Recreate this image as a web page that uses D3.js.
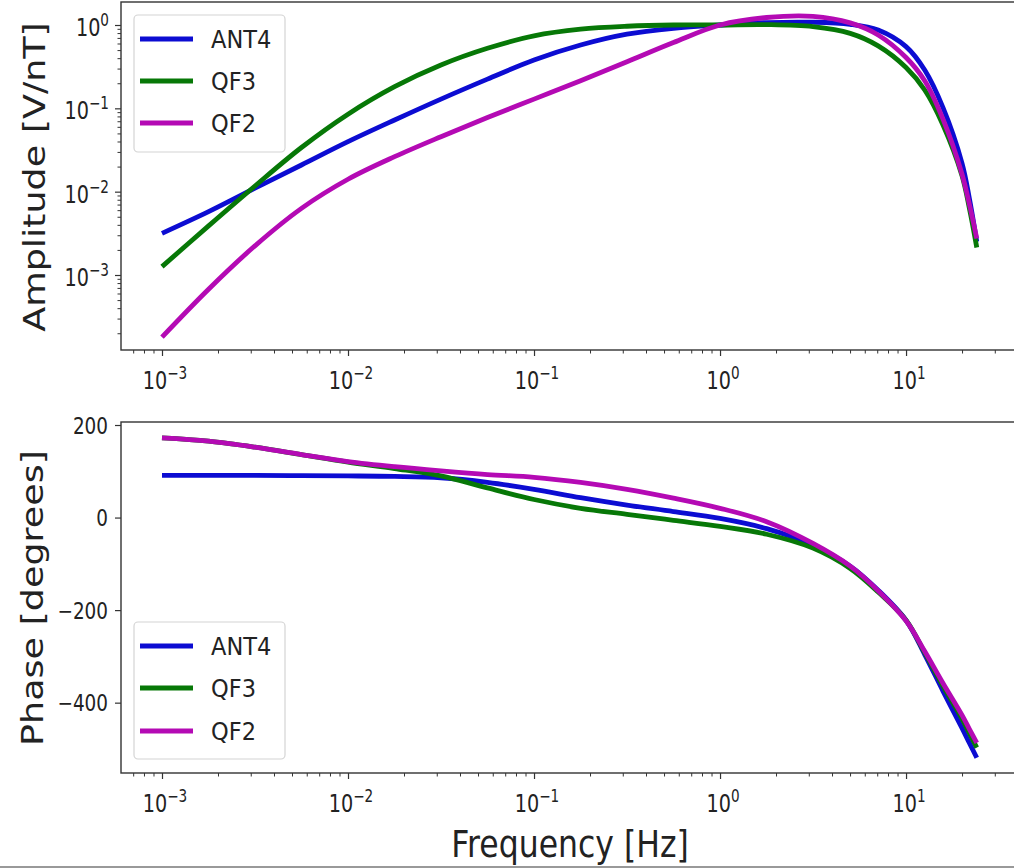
<!DOCTYPE html>
<html><head><meta charset="utf-8">
<script src="https://cdn.jsdelivr.net/npm/d3@7"></script>
<style>
body{margin:0;background:#fff}
svg{display:block}
text{font-family:"DejaVu Sans",sans-serif;fill:#222}
</style>
</head><body>
<svg id="c" width="1014" height="868"></svg>
<script>
// ---------------- data ----------------
const freqs = [0.001, 0.00178, 0.00316, 0.00562, 0.01, 0.0178, 0.0316, 0.0562, 0.1, 0.178, 0.316, 0.562,
               1, 1.78, 3.16, 5.01, 7.08, 10, 12.6, 15.8, 20, 21.9, 24];
const seriesNames = ["ANT4", "QF3", "QF2"];
const seriesColors = ["#0c0cd2", "#077807", "#b40ab4"];

const ampANT4 = [0.00316, 0.00575, 0.0110, 0.0209, 0.0398, 0.0724, 0.129, 0.224, 0.380, 0.575, 0.776, 0.912,
                 1.0, 1.07, 1.08, 1.02, 0.871, 0.550, 0.288, 0.102, 0.0219, 0.0083, 0.00251];
const ampQF3  = [0.00126, 0.00389, 0.0117, 0.0339, 0.0851, 0.182, 0.331, 0.525, 0.741, 0.891, 0.966, 1.0,
                 1.0, 1.01, 0.955, 0.794, 0.562, 0.309, 0.166, 0.0631, 0.0155, 0.00631, 0.00214];
const ampQF2  = [0.00018, 0.000676, 0.00224, 0.00631, 0.0141, 0.0263, 0.0457, 0.0776, 0.129, 0.214, 0.363, 0.617,
                 1.0, 1.23, 1.27, 1.06, 0.76, 0.407, 0.214, 0.0741, 0.0162, 0.00708, 0.00275];

const phaseANT4 = [91, 91, 91, 90.5, 90, 89, 86, 76, 61, 43, 27, 13,
                   -2, -24, -60, -105, -157, -222, -296, -375, -455, -487, -519];
const phaseQF3  = [172, 165, 152, 136, 120, 106, 90, 64, 39, 20, 7, -6,
                   -19, -36, -66, -110, -161, -222, -292, -364, -435, -466, -497];
const phaseQF2  = [172, 165, 152, 136, 121, 110, 101, 93, 87, 76, 61, 42,
                   20, -9, -56, -105, -158, -223, -289, -358, -427, -457, -487];

const xTickExps = [-3, -2, -1, 0, 1];
const ampTickExps = [-3, -2, -1, 0];
const phaseTicks = [200, 0, -200, -400];
const ampLabel = "Amplitude [V/nT]";
const phaseLabel = "Phase [degrees]";
const freqLabel = "Frequency [Hz]";

// ---------------- layout ----------------
const SX = 0.8;       // horizontal squeeze of the glyphs in the reference
const L = 121, R = 1021;
const topA = 2, botA = 350, topP = 422, botP = 773;

const svg = d3.select("#c");
const x = d3.scaleLog().domain([Math.pow(10, -3.2204), Math.pow(10, 1.618)]).range([L, R]);
const yAmp = d3.scaleLog().domain([Math.pow(10, -3.9), Math.pow(10, 0.276)]).range([botA, topA]);
const yPh = d3.scaleLinear().domain([-552, 206.5]).range([botP, topP]);

function minorLog(domain) {
  const out = [];
  for (let e = -5; e <= 2; e++) for (let m = 2; m <= 9; m++) {
    const v = m * Math.pow(10, e);
    if (v >= domain[0] && v <= domain[1]) out.push(v);
  }
  return out;
}
const sup = e => (e < 0 ? "\u2212" + Math.abs(e) : String(e));

function sciLabel(g, px, py, e, anchor) {
  const t = g.append("g").attr("transform", `translate(${px},${py}) scale(${SX},1)`)
    .append("text").attr("text-anchor", anchor).attr("font-size", 24);
  t.append("tspan").text("10");
  t.append("tspan").attr("font-size", 17).attr("dy", -10).text(sup(e));
}

function xAxis(yBase) {
  const g = svg.append("g");
  g.append("g").attr("transform", `translate(0,${yBase})`)
    .call(d3.axisBottom(x).tickValues(minorLog(x.domain())).tickSize(3.5).tickFormat(""))
    .call(a => a.select(".domain").remove())
    .selectAll("line").attr("stroke", "#333").attr("stroke-width", 1);
  g.append("g").attr("transform", `translate(0,${yBase})`)
    .call(d3.axisBottom(x).tickValues(xTickExps.map(e => Math.pow(10, e))).tickSize(6).tickFormat(""))
    .call(a => a.select(".domain").remove())
    .selectAll("line").attr("stroke", "#333").attr("stroke-width", 1.2);
  xTickExps.forEach(e => sciLabel(g, x(Math.pow(10, e)) + 3, yBase + 39, e, "middle"));
}

function frame(t, b) {
  svg.append("rect").attr("x", L).attr("y", t).attr("width", R - L).attr("height", b - t)
    .attr("fill", "none").attr("stroke", "#333").attr("stroke-width", 1.4);
}

const curve = d3.curveCatmullRom.alpha(0.5);

// ---------------- amplitude panel ----------------
frame(topA, botA);
xAxis(botA);
{
  const g = svg.append("g");
  g.append("g").attr("transform", `translate(${L},0)`)
    .call(d3.axisLeft(yAmp).tickValues(minorLog(yAmp.domain())).tickSize(3.5).tickFormat(""))
    .call(a => a.select(".domain").remove())
    .selectAll("line").attr("stroke", "#333");
  g.append("g").attr("transform", `translate(${L},0)`)
    .call(d3.axisLeft(yAmp).tickValues(ampTickExps.map(e => Math.pow(10, e))).tickSize(6).tickFormat(""))
    .call(a => a.select(".domain").remove())
    .selectAll("line").attr("stroke", "#333").attr("stroke-width", 1.2);
  ampTickExps.forEach(e => sciLabel(g, 109, yAmp(Math.pow(10, e)) + 11, e, "end"));
}
const ampSeries = [ampANT4, ampQF3, ampQF2];
const lineA = d3.line().x(d => x(d[0])).y(d => yAmp(d[1])).curve(curve);
ampSeries.forEach((s, i) => {
  svg.append("path").datum(freqs.map((f, k) => [f, s[k]]))
    .attr("d", lineA).attr("fill", "none").attr("stroke", seriesColors[i])
    .attr("stroke-width", 4.8).attr("stroke-linecap", "butt").attr("stroke-linejoin", "round");
});

// ---------------- phase panel ----------------
frame(topP, botP);
xAxis(botP);
{
  const g = svg.append("g");
  g.append("g").attr("transform", `translate(${L},0)`)
    .call(d3.axisLeft(yPh).tickValues(phaseTicks).tickSize(6).tickFormat(""))
    .call(a => a.select(".domain").remove())
    .selectAll("line").attr("stroke", "#333").attr("stroke-width", 1.2);
  phaseTicks.forEach(v => {
    g.append("g").attr("transform", `translate(108,${yPh(v) + 8.5}) scale(${SX},1)`)
      .append("text").attr("text-anchor", "end").attr("font-size", 23)
      .text(v < 0 ? "\u2212" + Math.abs(v) : String(v));
  });
}
const phaseSeries = [phaseANT4, phaseQF3, phaseQF2];
const lineP = d3.line().x(d => x(d[0])).y(d => yPh(d[1])).curve(curve);
phaseSeries.forEach((s, i) => {
  svg.append("path").datum(freqs.map((f, k) => [f, s[k]]))
    .attr("d", lineP).attr("fill", "none").attr("stroke", seriesColors[i])
    .attr("stroke-width", 4.8).attr("stroke-linecap", "butt").attr("stroke-linejoin", "round");
});

// ---------------- legends ----------------
function legend(top, rows) {
  const g = svg.append("g");
  g.append("rect").attr("x", 134).attr("y", top).attr("width", 151).attr("height", 137).attr("rx", 4)
    .attr("fill", "#fff").attr("fill-opacity", 0.85).attr("stroke", "#d4d4d4").attr("stroke-width", 1.2);
  seriesNames.forEach((n, i) => {
    const cy = rows[i];
    g.append("line").attr("x1", 140).attr("x2", 193).attr("y1", cy).attr("y2", cy)
      .attr("stroke", seriesColors[i]).attr("stroke-width", 5);
    g.append("g").attr("transform", `translate(211,${cy + 9}) scale(0.9,1)`)
      .append("text").attr("font-size", 25).text(n);
  });
}
legend(15, [39, 81, 123]);
legend(622, [646, 688, 731]);

// ---------------- axis titles ----------------
svg.append("g").attr("transform", `translate(45,177) scale(0.84,1) rotate(-90)`)
  .append("text").attr("text-anchor", "middle").attr("font-size", 36.5).text(ampLabel);
svg.append("g").attr("transform", `translate(43,598) scale(0.84,1) rotate(-90)`)
  .append("text").attr("text-anchor", "middle").attr("font-size", 36.5).text(phaseLabel);
svg.append("g").attr("transform", `translate(570,857) scale(0.84,1)`)
  .append("text").attr("text-anchor", "middle").attr("font-size", 37.5).text(freqLabel);

// image border line
svg.append("line").attr("x1", 0).attr("x2", 1014).attr("y1", 867).attr("y2", 867)
  .attr("stroke", "#999").attr("stroke-width", 2);
</script>
</body></html>
